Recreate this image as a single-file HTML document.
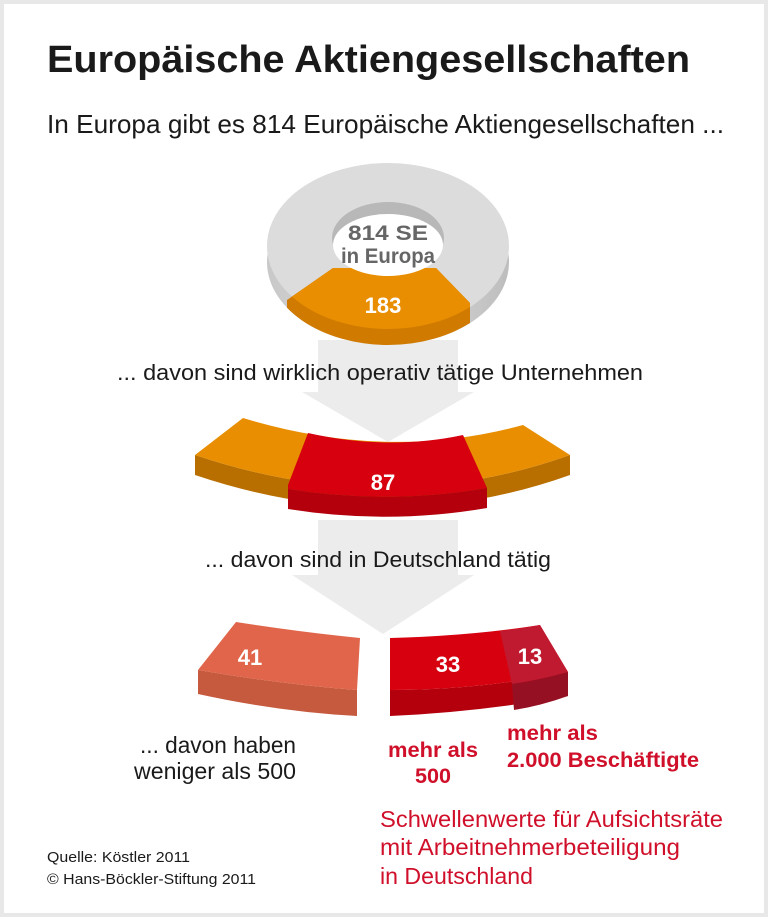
<!DOCTYPE html>
<html><head><meta charset="utf-8"><style>
html,body{margin:0;padding:0;background:#fff}
svg{display:block}
text{font-family:"Liberation Sans",sans-serif}
</style></head><body>
<svg width="768" height="917" viewBox="0 0 768 917" xmlns="http://www.w3.org/2000/svg">
<defs>
<clipPath id="oc"><polygon points="287,300 333,268 436,268 470,303 470,400 287,400"/></clipPath>
<linearGradient id="gs" x1="0" x2="1"><stop offset="0" stop-color="#c8c8c8"/><stop offset="0.5" stop-color="#e0e0e0"/><stop offset="1" stop-color="#bdbdbd"/></linearGradient>
</defs>
<rect x="0" y="0" width="768" height="917" fill="#e8e8e8"/>
<rect x="4" y="4" width="760" height="909" fill="#fff"/>
<text x="47" y="72" font-size="38" font-weight="bold" fill="#1a1a1a" textLength="643" lengthAdjust="spacingAndGlyphs">Europäische Aktiengesellschaften</text>
<text x="47" y="133" font-size="26" fill="#1a1a1a" textLength="677" lengthAdjust="spacingAndGlyphs">In Europa gibt es 814 Europäische Aktiengesellschaften ...</text>
<polygon points="318,340 458,340 458,392 474,392 388,442 302,392 318,392" fill="#ececec"/>
<polygon points="318,520 458,520 458,575 474,575 383,634 292,575 318,575" fill="#ececec"/>
<ellipse cx="388" cy="262" rx="121" ry="83" fill="url(#gs)"/>
<ellipse cx="388" cy="246" rx="121" ry="83" fill="#dcdcdc"/>
<g clip-path="url(#oc)">
<ellipse cx="388" cy="262" rx="121" ry="83" fill="#d07a00"/>
<ellipse cx="388" cy="246" rx="121" ry="83" fill="#e88e00"/>
</g>
<ellipse cx="388" cy="238" rx="56" ry="36" fill="#b8b8b8"/>
<ellipse cx="388" cy="245" rx="55" ry="31" fill="#fff"/>
<text x="388" y="240" font-size="21" font-weight="bold" fill="#666" text-anchor="middle" textLength="80" lengthAdjust="spacingAndGlyphs">814 SE</text>
<text x="388" y="263" font-size="21" font-weight="bold" fill="#666" text-anchor="middle" textLength="94" lengthAdjust="spacingAndGlyphs">in Europa</text>
<text x="383" y="313" font-size="22" font-weight="bold" fill="#fff" text-anchor="middle">183</text>
<text x="117" y="380" font-size="22" fill="#1a1a1a" textLength="526" lengthAdjust="spacingAndGlyphs">... davon sind wirklich operativ tätige Unternehmen</text>
<path d="M195,455 Q388,520 570,455 L570,475 Q388,540 195,475 Z" fill="#b86f00"/>
<path d="M243,418 Q388,462 523,425 L570,455 Q388,520 195,455 Z" fill="#e88e00"/>
<path d="M288,485 L308,433 Q388,451 463,435 L487,488 Q388,505 288,489 Z" fill="#d6000f"/>
<path d="M288,489 Q388,505 487,488 L487,508 Q388,525 288,509 Z" fill="#b3000c"/>
<text x="383" y="490" font-size="22" font-weight="bold" fill="#fff" text-anchor="middle">87</text>
<text x="205" y="567" font-size="22" fill="#1a1a1a" textLength="346" lengthAdjust="spacingAndGlyphs">... davon sind in Deutschland tätig</text>
<path d="M198,670 Q280,684 357,690 L357,716 Q280,712 198,694 Z" fill="#c65a3e"/>
<path d="M236,622 Q300,632 360,638 L357,690 Q280,684 198,670 Z" fill="#e0654a"/>
<text x="250" y="665" font-size="22" font-weight="bold" fill="#fff" text-anchor="middle">41</text>
<path d="M390,690 Q480,690 568,672 L568,696 Q480,712 390,716 Z" fill="#b3000c"/>
<path d="M390,638 Q470,636 540,625 L568,672 Q480,690 390,690 Z" fill="#d6000f"/>
<path d="M500,631 Q520,629 540,625 L568,672 Q540,680 512,684 Z" fill="#c01a30"/>
<path d="M512,684 Q540,680 568,672 L568,696 Q540,706 514,710 Z" fill="#961024"/>
<text x="448" y="672" font-size="22" font-weight="bold" fill="#fff" text-anchor="middle">33</text>
<text x="530" y="664" font-size="22" font-weight="bold" fill="#fff" text-anchor="middle">13</text>
<text x="140" y="753" font-size="23" fill="#1a1a1a" textLength="156" lengthAdjust="spacingAndGlyphs">... davon haben</text>
<text x="134" y="779" font-size="23" fill="#1a1a1a" textLength="162" lengthAdjust="spacingAndGlyphs">weniger als 500</text>
<text x="388" y="757" font-size="21" font-weight="bold" fill="#d0102a" textLength="90" lengthAdjust="spacingAndGlyphs">mehr als</text>
<text x="415" y="783" font-size="21" font-weight="bold" fill="#d0102a" textLength="36" lengthAdjust="spacingAndGlyphs">500</text>
<text x="507" y="740" font-size="21" font-weight="bold" fill="#d0102a" textLength="91" lengthAdjust="spacingAndGlyphs">mehr als</text>
<text x="507" y="767" font-size="21" font-weight="bold" fill="#d0102a" textLength="192" lengthAdjust="spacingAndGlyphs">2.000 Beschäftigte</text>
<text x="380" y="827" font-size="23" fill="#d0102a" textLength="343" lengthAdjust="spacingAndGlyphs">Schwellenwerte für Aufsichtsräte</text>
<text x="380" y="855" font-size="23" fill="#d0102a" textLength="300" lengthAdjust="spacingAndGlyphs">mit Arbeitnehmerbeteiligung</text>
<text x="380" y="884" font-size="23" fill="#d0102a" textLength="153" lengthAdjust="spacingAndGlyphs">in Deutschland</text>
<text x="47" y="862" font-size="15" fill="#1a1a1a" textLength="143" lengthAdjust="spacingAndGlyphs">Quelle: Köstler 2011</text>
<text x="47" y="884" font-size="15" fill="#1a1a1a" textLength="209" lengthAdjust="spacingAndGlyphs">© Hans-Böckler-Stiftung 2011</text>
</svg>
</body></html>
